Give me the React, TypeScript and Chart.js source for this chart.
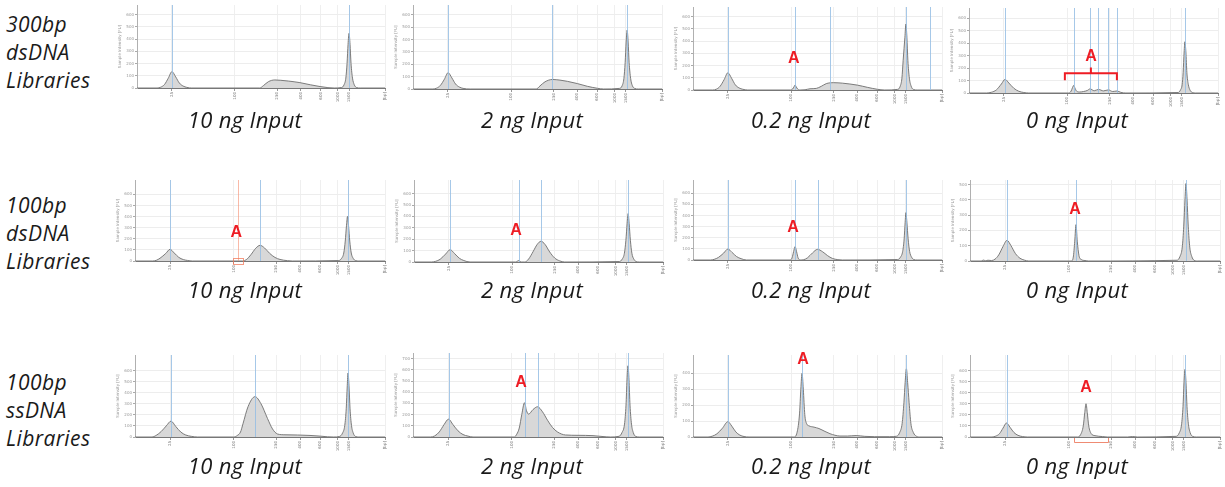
import React, { useEffect, useRef } from 'react';
import { Chart, registerables } from 'chart.js';

Chart.register(...registerables);

// ---------- shared axis ticks (position units along the electropherogram) ----------
const xTickPositions = [14, 39.5, 56.5, 66, 74, 81, 85.5, 100];
const xTickLabels = ['25', '100', '250', '400', '600', '1000', '1500', '[bp]'];

const captions = ['10 ng Input', '2 ng Input', '0.2 ng Input', '0 ng Input'];
const rowLabels = [
  ['300bp', 'dsDNA', 'Libraries'],
  ['100bp', 'dsDNA', 'Libraries'],
  ['100bp', 'ssDNA', 'Libraries'],
];

// ---------- traces: [position, intensity FU] ----------
const lib300_10ng: number[][] = [
  [0, 0], [8.1, 0], [9.6, 7], [11.1, 29], [12.6, 80], [14.1, 134], [15.6, 91], [17.1, 40], [18.6, 16], [20.1, 5], [22.1, 0],
  [49.5, 0], [51, 20], [53, 52], [55.6, 66], [58, 63], [61, 57], [65.7, 44], [70, 26], [73.8, 12], [77, 3], [79.5, 0],
  [82.5, 4], [83.5, 27], [84.2, 81], [84.7, 202], [85.1, 358], [85.5, 448], [85.9, 358], [86.3, 202], [86.9, 81], [87.6, 27], [88.5, 4], [90, 0], [100, 0],
];
const lib300_2ng: number[][] = [
  [0, 0], [8, 0], [9.5, 7], [11, 29], [12.6, 79], [14.1, 132], [15.6, 90], [17.1, 40], [18.6, 16], [20.1, 5], [23, 0],
  [49.5, 0], [51, 25], [53, 58], [56, 77], [59, 72], [62, 62], [66, 44], [70, 22], [74, 6], [76.5, 0],
  [83, 5], [84, 27], [84.7, 86], [85.2, 214], [85.6, 380], [86, 476], [86.4, 380], [86.8, 214], [87.4, 86], [88.1, 27], [89, 5], [90.5, 0], [100, 0],
];
const lib300_02ng: number[][] = [
  [0, 0], [7.9, 0], [9.4, 7], [10.9, 31], [12.5, 85], [14, 141], [15.5, 96], [17, 42], [18.5, 17], [20, 6], [22, 0],
  [39, 0], [40, 8], [40.6, 28], [41, 41], [41.4, 28], [42, 8], [43, 0], [45, 2], [47, 10], [49.5, 13], [51.5, 30], [53.5, 52], [56.5, 60], [60, 56], [66, 40], [70, 22], [74, 6], [77, 0],
  [82.2, 5], [83.2, 30], [83.9, 97], [84.4, 243], [85.1, 432], [85.5, 540], [85.9, 432], [86.3, 243], [86.9, 97], [87.6, 32], [88.5, 5], [90, 0], [100, 0],
];
const lib300_0ng: number[][] = [
  [0, 0], [7, 0], [9, 6], [11, 25], [13, 72], [14.5, 109], [16, 80], [18, 38], [20, 14], [22, 4], [24, 0],
  [40, 0], [41, 15], [41.6, 45], [42, 60], [42.5, 42], [43.2, 15], [44.5, 8], [46, 12], [47.5, 20], [48.6, 33], [50.3, 18], [52, 29], [54, 17], [56, 25], [57.7, 12], [59.4, 16], [61, 5], [63, 0],
  [84, 4], [85, 27], [85.6, 66], [86, 164], [86.4, 328], [86.7, 410], [87.1, 328], [87.5, 164], [88.1, 66], [88.8, 22], [89.7, 4], [91, 0], [100, 0],
];
const ds100_10ng: number[][] = [
  [0, 0], [7, 0], [8.5, 6], [10, 25], [12.3, 68], [14, 105], [15.7, 72], [17.5, 33], [19.3, 13], [21, 5], [23, 0],
  [43, 0], [44.5, 12], [46.4, 58], [48.3, 115], [50, 141], [51.8, 118], [53.8, 70], [56, 32], [58, 14], [61, 3], [63, 0],
  [81.5, 4], [82.6, 23], [83.5, 72], [84.1, 180], [84.6, 322], [85, 402], [85.4, 322], [85.9, 180], [86.5, 72], [87.3, 23], [88.2, 4], [89.5, 0], [100, 0],
];
const ds100_2ng: number[][] = [
  [0, 0], [7, 0], [8.7, 6], [10.5, 24], [12.7, 70], [14.5, 108], [16.3, 74], [18.2, 33], [20, 13], [22.5, 0],
  [40.8, 0], [41.5, 7], [42, 13], [42.5, 7], [43.2, 0], [44.5, 0], [46, 25], [47.8, 90], [49.5, 155], [51, 182], [52.6, 155], [54.5, 88], [56.5, 35], [58.5, 10], [60.5, 0],
  [82.5, 4], [83.6, 25], [84.5, 77], [85.1, 191], [85.6, 340], [86, 425], [86.4, 340], [86.9, 191], [87.5, 77], [88.3, 25], [89.2, 4], [90.5, 0], [100, 0],
];
const ds100_02ng: number[][] = [
  [0, 0], [7, 0], [8.5, 6], [10.2, 23], [12.3, 62], [14, 99], [15.7, 68], [17.5, 31], [19.3, 12], [21.5, 0],
  [39, 0], [39.8, 20], [40.4, 75], [41, 120], [41.6, 75], [42.2, 20], [43, 0], [44.5, 3], [46, 20], [48, 64], [50, 96], [52, 75], [54, 40], [56, 14], [58.2, 3], [60, 0],
  [82.2, 4], [83.3, 25], [84.2, 77], [84.8, 190], [85.2, 340], [85.5, 426], [85.9, 340], [86.4, 190], [87, 77], [87.8, 25], [88.7, 4], [90, 0], [100, 0],
];
const ds100_0ng: number[][] = [
  [0, 0], [4.5, 0], [5.3, 6], [6.2, 2], [7.2, 5], [8.6, 3], [10, 12], [11.5, 40], [13.2, 95], [14.8, 135], [16.4, 100], [18.2, 48], [20, 18], [21.7, 6], [23.5, 0],
  [40.5, 0], [41.3, 25], [41.9, 130], [42.4, 238], [42.9, 130], [43.6, 35], [44.5, 10], [46, 3], [47.5, 0],
  [82.8, 5], [84, 30], [84.9, 91], [85.5, 228], [86, 406], [86.4, 507], [86.8, 406], [87.3, 228], [87.9, 91], [88.7, 30], [89.6, 5], [91, 0], [100, 0],
];
const ss100_10ng: number[][] = [
  [0, 0], [6.8, 0], [8.5, 15], [10.5, 50], [12.5, 100], [14.4, 143], [16.3, 95], [18.3, 45], [20.3, 18], [22.5, 6], [25, 0],
  [39.5, 0], [41, 15], [42.2, 45], [43.2, 120], [45.2, 273], [48, 364], [50.4, 300], [53, 167], [55, 73], [57, 27], [60, 20], [65, 18], [70, 14], [74, 8], [77, 2], [79.5, 0],
  [81.8, 5], [83, 35], [83.9, 104], [84.5, 260], [84.9, 462], [85.2, 577], [85.6, 462], [86, 260], [86.6, 104], [87.3, 35], [88.2, 5], [89.5, 0], [100, 0],
];
const ss100_2ng: number[][] = [
  [0, 0], [7, 0], [8.7, 10], [10.5, 45], [12.4, 110], [14.2, 159], [16, 110], [18, 55], [20, 22], [22, 8], [24, 0],
  [40.5, 0], [41.5, 25], [42.5, 80], [43.5, 200], [44.6, 306], [45.4, 235], [46.2, 204], [48, 245], [49.8, 270], [51.8, 225], [53.8, 150], [55.8, 85], [57.8, 45], [61, 18], [66, 15], [72, 12], [76, 4], [79, 0],
  [82.4, 6], [83.6, 40], [84.6, 115], [85.2, 285], [85.6, 510], [86, 636], [86.4, 510], [86.8, 285], [87.4, 115], [88.1, 40], [89, 6], [90.5, 0], [100, 0],
];
const ss100_02ng: number[][] = [
  [0, 0], [6, 0], [7.7, 5], [9.6, 20], [11.8, 55], [14, 96], [15.6, 68], [17.2, 32], [18.8, 12], [20.5, 3], [22.5, 0],
  [40.5, 0], [41.8, 30], [42.8, 150], [43.3, 300], [43.8, 400], [44.3, 300], [44.9, 140], [45.6, 85], [46.6, 70], [48.6, 62], [50.6, 53], [53, 35], [55, 21], [57, 11], [59, 6], [62, 6], [65.5, 9], [69, 4], [73, 2], [79, 2],
  [81.8, 5], [83, 28], [84, 86], [84.7, 215], [85.2, 343], [85.7, 428], [86.2, 343], [86.8, 215], [87.5, 86], [88.5, 28], [89.7, 5], [91, 0], [100, 0],
];
const ss100_0ng: number[][] = [
  [0, 0], [8.8, 0], [10.3, 8], [11.8, 30], [13.2, 80], [14.6, 126], [16, 88], [17.6, 40], [19.2, 15], [21, 4], [23, 0],
  [43, 0], [44.2, 20], [45.3, 100], [45.9, 220], [46.4, 300], [46.9, 220], [47.5, 100], [48.5, 30], [50, 12], [53, 4], [55, 0], [63, 0], [65, 4], [67, 0],
  [82.5, 6], [83.7, 37], [84.6, 110], [85.2, 275], [85.6, 490], [86, 610], [86.4, 490], [86.8, 275], [87.4, 110], [88.1, 37], [89, 6], [90.5, 0], [100, 0],
];

// peak-marker (blue) line positions per panel
const marks300_10 = [14.1, 85.5];
const marks300_2 = [14.1, 56, 86];
const marks300_02 = [14, 41, 55, 85.5, 95];
const marks300_0 = [14.5, 42, 48.6, 52, 56, 59.4, 86.7];
const marks100ds_10 = [14, 50, 85];
const marks100ds_2 = [14.5, 42, 51, 86];
const marks100ds_02 = [14, 41, 50, 85.5];
const marks100ds_0 = [14.8, 42.4, 86.4];
const marks100ss_10 = [14.4, 48, 85.2];
const marks100ss_2 = [14.2, 44.6, 49.8, 86];
const marks100ss_02 = [14, 43.8, 85.7];
const marks100ss_0 = [14.6, 86];

type Anno =
  | { type: 'A'; x: number; y: number }
  | { type: 'bracket'; x1: number; x2: number; y: number; yEnd: number; yMid: number }
  | { type: 'redline'; x: number }
  | { type: 'box'; x1: number; x2: number }
  | { type: 'under'; x1: number; x2: number };

type PanelCfg = {
  left: number; right: number; top: number; bottom: number;
  yMax: number; data: number[][]; marks: number[]; annos: Anno[];
};

const PANELS: PanelCfg[][] = [
  [
    { left: 137, right: 385, top: 5, bottom: 88, yMax: 680, data: lib300_10ng, marks: marks300_10, annos: [] },
    { left: 413, right: 662, top: 5, bottom: 89, yMax: 680, data: lib300_2ng, marks: marks300_2, annos: [] },
    { left: 693, right: 942, top: 7, bottom: 90, yMax: 680, data: lib300_02ng, marks: marks300_02, annos: [{ type: 'A', x: 40.5, y: 224 }] },
    {
      left: 969, right: 1218, top: 8, bottom: 93, yMax: 680, data: lib300_0ng, marks: marks300_0,
      annos: [{ type: 'A', x: 49, y: 254 }, { type: 'bracket', x1: 38.5, x2: 59.4, y: 158, yEnd: 103, yMid: 205 }],
    },
  ],
  [
    {
      left: 135, right: 385, top: 180, bottom: 261, yMax: 730, data: ds100_10ng, marks: marks100ds_10,
      annos: [{ type: 'redline', x: 41 }, { type: 'box', x1: 39.2, x2: 43.2 }, { type: 'A', x: 40.5, y: 213 }],
    },
    { left: 414, right: 663, top: 180, bottom: 262, yMax: 720, data: ds100_2ng, marks: marks100ds_2, annos: [{ type: 'A', x: 41, y: 235 }] },
    { left: 693, right: 942, top: 180, bottom: 260, yMax: 720, data: ds100_02ng, marks: marks100ds_02, annos: [{ type: 'A', x: 40.2, y: 252 }] },
    { left: 970, right: 1220, top: 180, bottom: 261, yMax: 530, data: ds100_0ng, marks: marks100ds_0, annos: [{ type: 'A', x: 42, y: 310 }] },
  ],
  [
    { left: 135, right: 385, top: 355, bottom: 437, yMax: 740, data: ss100_10ng, marks: marks100ss_10, annos: [] },
    { left: 413, right: 663, top: 353, bottom: 437, yMax: 750, data: ss100_2ng, marks: marks100ss_2, annos: [{ type: 'A', x: 43.2, y: 447 }] },
    { left: 693, right: 942, top: 355, bottom: 437, yMax: 515, data: ss100_02ng, marks: marks100ss_02, annos: [{ type: 'A', x: 44.2, y: 456 }] },
    {
      left: 970, right: 1220, top: 355, bottom: 437, yMax: 740, data: ss100_0ng, marks: marks100ss_0,
      annos: [{ type: 'under', x1: 41.6, x2: 55.2 }, { type: 'A', x: 46.4, y: 405 }],
    },
  ],
];

const captionCenters = [245, 532, 811, 1077];
const captionBaselines = [128, 298, 474];
const rowLabelBaselines = [32, 213, 390];

const PAD_TOP = 16;
const PAD_RIGHT = 6;
const Y_W = 20;
const X_H = 18;

const RED = '#ee1c24';

function makeOverlay(p: PanelCfg) {
  return {
    id: 'overlay',
    afterDatasetsDraw(chart: any) {
      const ctx = chart.ctx as CanvasRenderingContext2D;
      const xs = chart.scales.x;
      const ys = chart.scales.y;
      const area = chart.chartArea;
      const base = ys.getPixelForValue(0);
      ctx.save();
      // blue peak-marker lines
      ctx.strokeStyle = 'rgba(150,190,228,0.85)';
      ctx.lineWidth = 1;
      p.marks.forEach((m) => {
        const px = Math.round(xs.getPixelForValue(m)) + 0.5;
        ctx.beginPath();
        ctx.moveTo(px, area.top);
        ctx.lineTo(px, base);
        ctx.stroke();
      });
      p.annos.forEach((a) => {
        if (a.type === 'redline') {
          const px = Math.round(xs.getPixelForValue(a.x)) + 0.5;
          ctx.strokeStyle = 'rgba(245,140,110,0.6)';
          ctx.lineWidth = 1;
          ctx.beginPath();
          ctx.moveTo(px, area.top);
          ctx.lineTo(px, base);
          ctx.stroke();
        } else if (a.type === 'box') {
          const x1 = xs.getPixelForValue(a.x1);
          const x2 = xs.getPixelForValue(a.x2);
          ctx.strokeStyle = 'rgba(240,120,90,0.75)';
          ctx.lineWidth = 1;
          ctx.strokeRect(Math.round(x1) + 0.5, base - 2.5, Math.round(x2 - x1), 6);
        } else if (a.type === 'under') {
          const x1 = Math.round(xs.getPixelForValue(a.x1)) + 0.5;
          const x2 = Math.round(xs.getPixelForValue(a.x2)) + 0.5;
          ctx.strokeStyle = 'rgba(235,110,80,0.8)';
          ctx.lineWidth = 1;
          ctx.beginPath();
          ctx.moveTo(x1, base + 1);
          ctx.lineTo(x1, base + 5.5);
          ctx.lineTo(x2, base + 5.5);
          ctx.lineTo(x2, base + 1);
          ctx.stroke();
        } else if (a.type === 'bracket') {
          const x1 = xs.getPixelForValue(a.x1);
          const x2 = xs.getPixelForValue(a.x2);
          const xm = (x1 + x2) / 2;
          const y = ys.getPixelForValue(a.y);
          ctx.strokeStyle = RED;
          ctx.lineWidth = 2;
          ctx.beginPath();
          ctx.moveTo(x1, ys.getPixelForValue(a.yEnd));
          ctx.lineTo(x1, y);
          ctx.lineTo(x2, y);
          ctx.lineTo(x2, ys.getPixelForValue(a.yEnd));
          ctx.moveTo(xm, y);
          ctx.lineTo(xm, ys.getPixelForValue(a.yMid));
          ctx.stroke();
        } else if (a.type === 'A') {
          ctx.fillStyle = RED;
          ctx.font = 'bold 16px "Liberation Sans", Arial, sans-serif';
          ctx.textAlign = 'center';
          ctx.textBaseline = 'alphabetic';
          ctx.fillText('A', xs.getPixelForValue(a.x), ys.getPixelForValue(a.y));
        }
      });
      ctx.restore();
    },
  };
}

const isStep = (v: number) => Math.abs(v / 100 - Math.round(v / 100)) < 1e-6;

function Panel({ p }: { p: PanelCfg }) {
  const ref = useRef<HTMLCanvasElement>(null);
  const w = p.right - p.left + Y_W + PAD_RIGHT;
  const h = p.bottom - p.top + PAD_TOP + X_H;
  useEffect(() => {
    const chart = new Chart(ref.current as HTMLCanvasElement, {
      type: 'line',
      data: {
        datasets: [
          {
            data: p.data.map(([x, y]) => ({ x, y })),
            fill: 'origin',
            backgroundColor: '#d8d8d8',
            borderColor: '#6e6e6e',
            borderWidth: 0.9,
            pointRadius: 0,
            cubicInterpolationMode: 'monotone',
          },
        ],
      },
      options: {
        animation: false,
        responsive: false,
        devicePixelRatio: 1,
        events: [],
        layout: { padding: { top: PAD_TOP, right: PAD_RIGHT, left: 0, bottom: 0 } },
        plugins: { legend: { display: false }, tooltip: { enabled: false }, title: { display: false } },
        scales: {
          x: {
            type: 'linear',
            min: 0,
            max: 100,
            afterBuildTicks: (s: any) => {
              s.ticks = xTickPositions.map((v) => ({ value: v }));
            },
            afterFit: (s: any) => {
              s.height = X_H;
              s.paddingLeft = 0;
              s.paddingRight = 0;
            },
            ticks: {
              autoSkip: false,
              minRotation: 90,
              maxRotation: 90,
              padding: 1,
              font: { size: 4, family: 'DejaVu Sans' },
              color: '#777',
              callback: (v: any) => xTickLabels[xTickPositions.indexOf(Number(v))] ?? '',
            },
            grid: { color: '#efefef', tickLength: 3, tickColor: '#999' },
            border: { color: '#777', width: 1 },
          },
          y: {
            type: 'linear',
            min: 0,
            max: p.yMax,
            afterFit: (s: any) => {
              s.width = Y_W;
              s.paddingTop = 0;
              s.paddingBottom = 0;
            },
            ticks: {
              stepSize: 100,
              padding: 1,
              font: { size: 4, family: 'DejaVu Sans' },
              color: '#999',
              callback: (v: any) => (isStep(Number(v)) ? String(v) : ''),
            },
            grid: {
              color: (c: any) => (c.tick && isStep(c.tick.value) ? '#ededed' : 'rgba(0,0,0,0)'),
              tickLength: 2,
              tickColor: (c: any) => (c.tick && isStep(c.tick.value) ? '#aaa' : 'rgba(0,0,0,0)'),
            },
            border: { color: '#b0b0b0', width: 1 },
            title: { display: true, text: 'Sample Intensity [FU]', font: { size: 4, family: 'DejaVu Sans' }, color: '#999', padding: 1 },
          },
        },
      },
      plugins: [makeOverlay(p)],
    } as any);
    return () => chart.destroy();
  }, []);
  return (
    <canvas
      ref={ref}
      width={w}
      height={h}
      style={{ position: 'absolute', left: p.left - Y_W, top: p.top - PAD_TOP, width: w, height: h }}
    />
  );
}

const textFont = '"Open Sans", "DejaVu Sans", sans-serif';

export default function App() {
  return (
    <div style={{ position: 'absolute', left: 0, top: 0, width: 1225, height: 487, background: '#fff', overflow: 'hidden' }}>
      {PANELS.map((row, r) =>
        row.map((p, c) => <Panel key={`${r}-${c}`} p={p} />)
      )}
      {rowLabels.map((lines, r) => (
        <div
          key={`rl${r}`}
          style={{
            position: 'absolute', left: 6, top: rowLabelBaselines[r] - 22, fontFamily: textFont, fontStyle: 'italic',
            fontSize: 21, lineHeight: '28px', color: '#1a1a1a', whiteSpace: 'nowrap', letterSpacing: 0.4,
          }}
        >
          {lines.map((t, i) => (
            <div key={i}>{t}</div>
          ))}
        </div>
      ))}
      {captionBaselines.map((b, r) =>
        captions.map((t, c) => (
          <div
            key={`cap${r}-${c}`}
            style={{
              position: 'absolute', left: captionCenters[c] - 100, width: 200, top: b - 23, textAlign: 'center',
              fontFamily: textFont, fontStyle: 'italic', fontSize: 22, lineHeight: '28px', color: '#1a1a1a',
              whiteSpace: 'nowrap', letterSpacing: 0.3,
            }}
          >
            {t}
          </div>
        ))
      )}
    </div>
  );
}
